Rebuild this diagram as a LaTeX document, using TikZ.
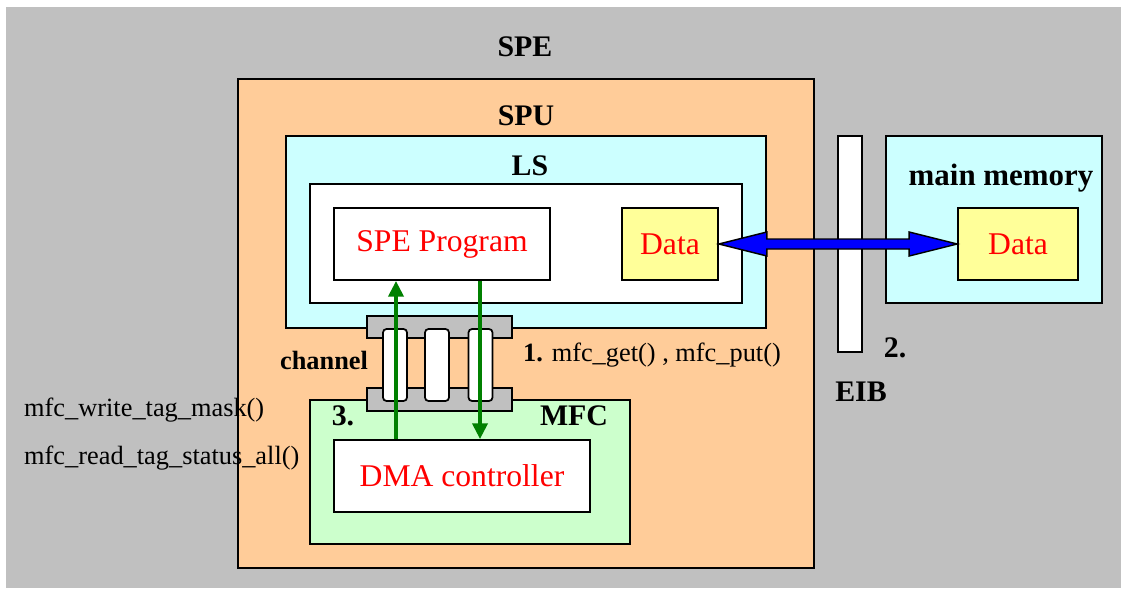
\documentclass[tikz,border=0pt]{standalone}
\usepackage{fontspec}
\setmainfont{Liberation Serif}
\usetikzlibrary{arrows.meta,calc}
\definecolor{spegray}{HTML}{C0C0C0}
\definecolor{spuorange}{HTML}{FFCC99}
\definecolor{lscyan}{HTML}{CCFFFF}
\definecolor{mfcgreen}{HTML}{CCFFCC}
\definecolor{datayellow}{HTML}{FFFF99}
\definecolor{flowgreen}{HTML}{008000}
\begin{document}
\begin{tikzpicture}[x=0.02cm, y=-0.02cm,
    box/.style={draw, line width=1pt, inner sep=0pt},
    lbl/.style={font=\bfseries\fontsize{17}{20}\selectfont},
    txt/.style={font=\fontsize{15}{18}\selectfont},
    redtxt/.style={text=red, font=\fontsize{18}{21}\selectfont},
    slot/.style={box, fill=white, rounded corners=2pt, minimum width=0.48cm, minimum height=1.44cm},
    flow/.style={draw=flowgreen, line width=2.3pt, -{Triangle[length=9pt,width=8.5pt]}}]
        \useasboundingbox (0,0) rectangle (1124,588);
        \fill[spegray] (6,7) rectangle (1121,588);
        % SPE / SPU
        \node[lbl] (spe) at (525,47) {SPE};
        \node[box, fill=spuorange, minimum width=11.52cm, minimum height=9.78cm] (spu) at (526,323.5) {};
        \node[lbl] (spulbl) at (526,116) {SPU};
        % local store
        \node[box, fill=lscyan, minimum width=9.6cm, minimum height=3.84cm] (ls) at (526,232) {};
        \node[lbl] (lslbl) at (530,166) {LS};
        \node[box, fill=white, minimum width=8.64cm, minimum height=2.38cm] (lsin) at (526,243.5) {};
        \node[box, fill=white, minimum width=4.32cm, minimum height=1.44cm, redtxt] (prog) at (442,244) {SPE Program};
        \node[box, fill=datayellow, minimum width=1.92cm, minimum height=1.44cm, redtxt] (data) at (670,244) {Data};
        % main memory + EIB
        \node[box, fill=lscyan, minimum width=4.32cm, minimum height=3.34cm] (mem) at (994,219.5) {};
        \node[lbl, font=\bfseries\fontsize{17.6}{20}\selectfont] (memlbl) at (1001,178) {main memory};
        \node[box, fill=datayellow, minimum width=2.4cm, minimum height=1.44cm, redtxt] (mdata) at (1018,244) {Data};
        \node[box, fill=white, minimum width=0.48cm, minimum height=4.32cm] (eib) at (850,244) {};
        \node[lbl] (eiblbl) at (861,392) {EIB};
        \node[lbl] (two) at (895,348) {2.};
        % MFC
        \node[box, fill=mfcgreen, minimum width=6.4cm, minimum height=2.88cm] (mfc) at (470,472) {};
        \node[lbl] (mfclbl) at (574,416) {MFC};
        \node[lbl] (three) at (343,416) {3.};
        \node[box, fill=white, minimum width=5.12cm, minimum height=1.44cm, redtxt] (dma) at (462,476) {DMA controller};
        % channel
        \node[box, fill=spegray, minimum width=2.9cm, minimum height=0.44cm] (bartop) at (439.5,327) {};
        \node[box, fill=spegray, minimum width=2.9cm, minimum height=0.46cm] (barbot) at (439.5,399.5) {};
        \foreach \sx/\sn in {395/a,437/b,480.5/c}
            \node[slot] (slot\sn) at (\sx,365) {};
        \node[lbl, font=\bfseries\fontsize{15}{18}\selectfont] (chlbl) at (324,360) {channel};
        \node[txt, anchor=west] (one) at (517,355) {\textbf{1.} mfc\_get() , mfc\_put()};
        \node[txt, anchor=west] (wmask) at (18,410) {mfc\_write\_tag\_mask()};
        \node[txt, anchor=west] (rstat) at (18,458) {mfc\_read\_tag\_status\_all()};
        % flows
        \coordinate (upx) at (396,0);
        \coordinate (downx) at (480,0);
        \draw[flow] (dma.north -| upx) -- (prog.south -| upx);
        \draw[flow] (prog.south -| downx) -- (dma.north -| downx);
        \filldraw[fill=blue, draw=black, line width=0.8pt] (data.east) -- ++(48,-12) -- ++(0,7)
            -- ($(mdata.west)+(-48,-5)$) -- ++(0,-7) -- (mdata.west) -- ++(-48,12) -- ++(0,-7)
            -- ($(data.east)+(48,5)$) -- ++(0,7) -- cycle;
\end{tikzpicture}
\end{document}
